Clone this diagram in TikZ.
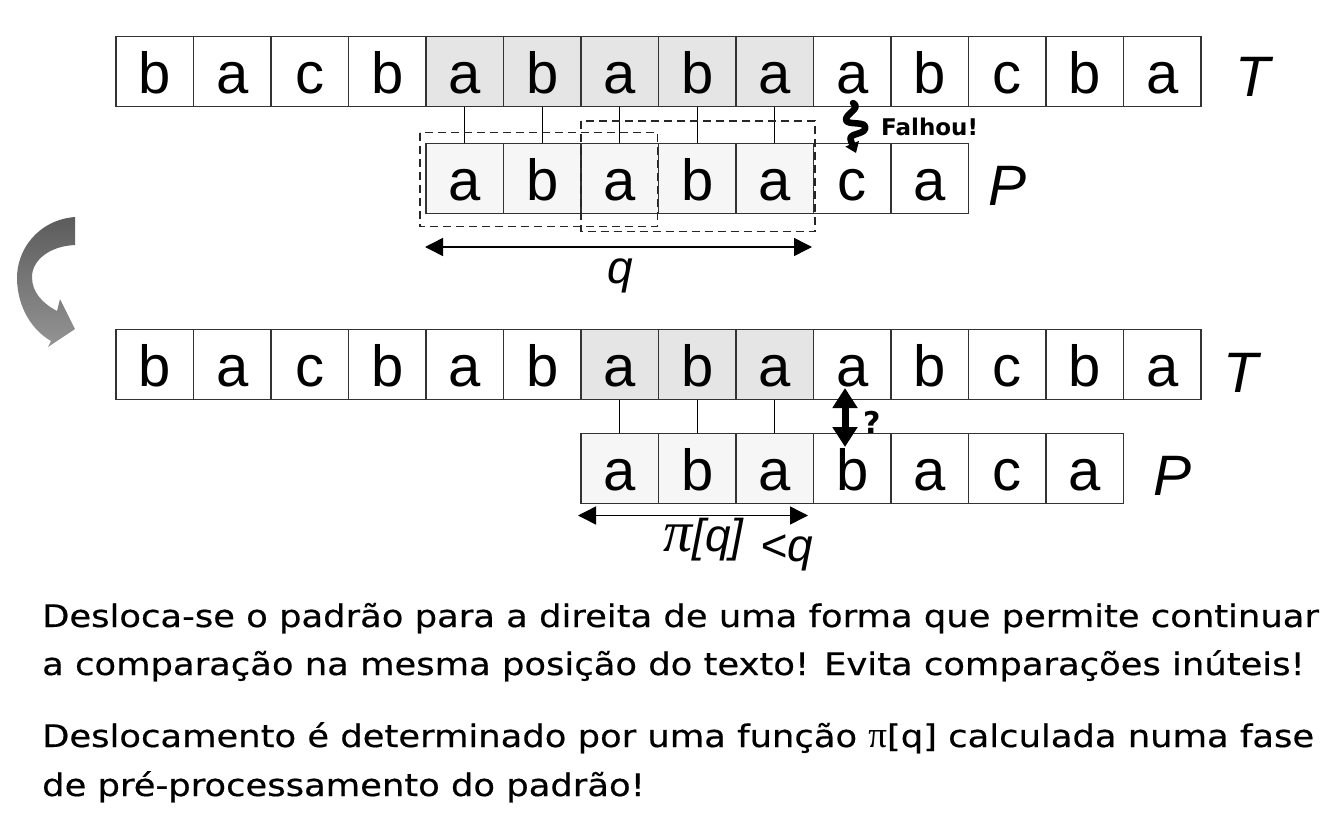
\documentclass[tikz,border=0pt]{standalone}
\usepackage{fontspec}
\setmainfont{Liberation Sans}
\newfontfamily\bodyfont[FakeStretch=1.14,FakeBold=0.5]{DejaVu Sans}
\newfontfamily\boldfont{DejaVu Sans}
\newfontfamily\seriffont{Liberation Serif}
\usetikzlibrary{arrows.meta}
\definecolor{hit}{gray}{0.90}
\definecolor{pat}{gray}{0.965}
\begin{document}
\begin{tikzpicture}[x=1pt,y=-1pt,
  cell/.style={draw=black!80, line width=1.2pt, minimum width=77.5pt,
    text height=57pt, text depth=13pt, inner sep=0pt,
    font=\fontsize{58}{58}\selectfont},
  lbl/.style={inner sep=0pt, anchor=base west, font=\fontsize{57}{57}\selectfont\itshape},
  conn/.style={draw=black, line width=1.2pt},
  dbox/.style={draw=black!85, line width=1.2pt, dash pattern=on 8pt off 5pt},
  dim/.style={line width=1.5pt, {Triangle[length=18pt,width=18pt]}-{Triangle[length=18pt,width=18pt]}},
  mathlbl/.style={inner sep=0pt, anchor=base west, font=\fontsize{46}{46}\selectfont\itshape},
  body/.style={inner sep=0pt, anchor=base west, font=\fontsize{31}{31}\selectfont\bodyfont},
  note/.style={inner sep=0pt, anchor=base west, font=\boldfont\bfseries}
]
\useasboundingbox (0,0) rectangle (1341,814);

% ---------- top text row T ----------
\foreach \c/\f [count=\i] in {b/white,a/white,c/white,b/white,a/hit,b/hit,a/hit,b/hit,a/hit,a/white,b/white,c/white,b/white,a/white}
  \node[cell, fill=\f] (ta\i) at ({116+77.5*(\i-0.5)},71.3) {\c};
\node[lbl] (tlabA) at (1235,96) {T};

% ---------- top pattern row P ----------
\foreach \c/\f [count=\i] in {a/pat,b/pat,a/pat,b/pat,a/pat,c/white,a/white}
  \node[cell, fill=\f] (pa\i) at ({426+77.5*(\i-0.5)},178.5) {\c};
\node[lbl] (plabA) at (988,205) {P};

\foreach \i [evaluate=\i as \j using int(\i+4)] in {1,...,5}
  \draw[conn] (ta\j.south) -- (pa\i.north);

% dashed boxes
\draw[dbox] (420,132.7) rectangle (657.7,226.5);
\draw[dbox] (581,121) rectangle (815,231.5);

% q dimension
\coordinate (qa) at (425,247);
\coordinate (qb) at (812,247);
\draw[dim] (qa) -- (qb);
\node[mathlbl, anchor=base] (qlab) at (620,283) {q};

% failure squiggle
\coordinate (fs) at (853,103);
\coordinate (fe) at (856,153);
\draw[line width=6.5pt, line cap=round, line join=round, -{Triangle[length=10pt,width=14pt]}]
  (fs) .. controls (862,108) and (845,114) .. (846,120)
       .. controls (847,126) and (868,120) .. (865,129)
       .. controls (863,135) and (847,133) .. (851,141)
       -- (fe);
\node[note, font=\fontsize{23}{23}\selectfont\boldfont\bfseries] (falhou) at (881,135) {Falhou!};

% ---------- curved shift arrow ----------
\shade[top color=black!64, bottom color=black!42]
  (75,217) .. controls (38,220) and (16,250) .. (17,280)
           .. controls (18,308) and (32,330) .. (51,341)
  -- (48,347) -- (75,329) -- (60,299) -- (57,311)
           .. controls (42,303) and (32,292) .. (32,277)
           .. controls (32,260) and (50,246) .. (75,245) -- cycle;

% ---------- bottom text row T ----------
\foreach \c/\f [count=\i] in {b/white,a/white,c/white,b/white,a/white,b/white,a/hit,b/hit,a/hit,a/white,b/white,c/white,b/white,a/white}
  \node[cell, fill=\f] (tb\i) at ({116+77.5*(\i-0.5)},364.5) {\c};
\node[lbl] (tlabB) at (1223,392) {T};

% ---------- bottom pattern row P ----------
\foreach \c/\f [count=\i] in {a/pat,b/pat,a/pat,b/white,a/white,c/white,a/white}
  \node[cell, fill=\f] (pb\i) at ({581+77.5*(\i-0.5)},468.5) {\c};
\node[lbl] (plabB) at (1153,495) {P};

\foreach \i [evaluate=\i as \j using int(\i+6)] in {1,...,3}
  \draw[conn] (tb\j.south) -- (pb\i.north);

% compare arrow
\coordinate (ca) at (845,388);
\coordinate (cb) at (845,447);
\draw[line width=7pt, {Triangle[length=20pt,width=24pt]}-{Triangle[length=20pt,width=24pt]}] (ca) -- (cb);
\node[note, font=\fontsize{30}{30}\selectfont\boldfont\bfseries] (qmark) at (863,433) {?};

% pi[q] dimension
\coordinate (pa) at (578,515.5);
\coordinate (pbb) at (808,515.5);
\draw[dim] (pa) -- (pbb);
\node[mathlbl] (pilab) at (663,551) {{\fontsize{58}{58}\selectfont\seriffont π}[q]};
\node[mathlbl] (ltq) at (760,561) {<q};

% ---------- body text ----------
\node[body] (l1) at (42,627) {Desloca-se o padrão para a direita de uma forma que permite continuar};
\node[body] (l2) at (42,675) {a comparação na mesma posição do texto! Evita comparações inúteis!};
\node[body] (l3) at (42,747) {Deslocamento é determinado por uma função {\fontsize{37}{37}\selectfont\seriffont π}[q] calculada numa fase};
\node[body] (l4) at (42,796) {de pré-processamento do padrão!};
\end{tikzpicture}
\end{document}
